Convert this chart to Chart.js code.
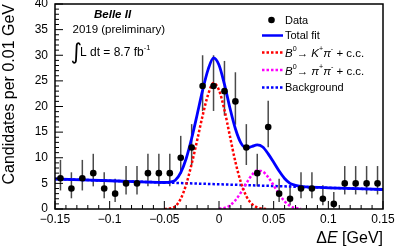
<!DOCTYPE html>
<html>
<head>
<meta charset="utf-8">
<script src="https://cdn.jsdelivr.net/npm/chart.js@4.4.0/dist/chart.umd.min.js"></script>
<style>
  html, body { margin: 0; padding: 0; background: #fff; }
  #c { display: block; }
</style>
</head>
<body>
<canvas id="c" width="395" height="248"></canvas>
<script>
/* ---- Data ---- */

// histogram bins, 0.01 GeV wide
const binCenters = [-0.145, -0.135, -0.125, -0.115, -0.105, -0.095, -0.085, -0.075, -0.065, -0.055,
                    -0.045, -0.035, -0.025, -0.015, -0.005, 0.005, 0.015, 0.025, 0.035, 0.045,
                    0.055, 0.065, 0.075, 0.085, 0.095, 0.105, 0.115, 0.125, 0.135, 0.145];
const counts = [6, 4, 6, 7, 4, 3, 5, 5, 7, 7,
                7, 10, 12, 24, 24, 23, 21, 12, 7, 16,
                3, 2, 4, 4, 2, 1, 5, 5, 5, 5];
// asymmetric (Poisson) error bars
const errLo = [2.38, 1.91, 2.38, 2.58, 1.91, 1.63, 2.16, 2.16, 2.58, 2.58,
               2.58, 3.11, 3.41, 4.87, 4.87, 4.77, 4.55, 3.41, 2.58, 3.96,
               1.63, 1.29, 1.91, 1.91, 1.29, 0.83, 2.16, 2.16, 2.16, 2.16];
const errHi = [3.58, 3.16, 3.58, 3.77, 3.16, 2.92, 3.38, 3.38, 3.77, 3.77,
               3.77, 4.27, 4.56, 6.00, 6.00, 5.89, 5.68, 4.56, 3.77, 5.10,
               2.92, 2.64, 3.16, 3.16, 2.64, 2.30, 3.38, 3.38, 3.38, 3.38];

// fit curves
const totalX = [-0.15, -0.1, -0.05, -0.045, -0.04, -0.035, -0.03, -0.025, -0.02, -0.015,
                -0.01, -0.005, 0, 0.005, 0.01, 0.015, 0.02, 0.025, 0.03, 0.035,
                0.04, 0.045, 0.05, 0.055, 0.06, 0.065, 0.07, 0.075, 0.08, 0.1, 0.15];
const totalY = [5.85, 5.51, 5.17, 5.25, 5.62, 7.1, 9.85, 13.8, 18.4, 23.15,
                27.2, 29.5, 28.1, 24.3, 19.7, 15.65, 12.9, 11.9, 12.2, 12.5,
                12.1, 10.75, 9.1, 7.4, 5.95, 5.0, 4.6, 4.4, 4.32, 4.14, 3.8];

const kpiX = [-0.05, -0.045, -0.04, -0.035, -0.03, -0.025, -0.02, -0.015, -0.01, -0.005,
              0, 0.005, 0.01, 0.015, 0.02, 0.025, 0.03, 0.035, 0.04, 0.045];
const kpiY = [0, 0.1, 0.5, 2.0, 4.8, 8.8, 13.4, 18.2, 22.3, 24.6,
              23.2, 19.3, 14.2, 9.2, 5.2, 2.5, 1.0, 0.3, 0.05, 0];

const pipiX = [0, 0.005, 0.01, 0.015, 0.02, 0.025, 0.03, 0.035,
               0.04, 0.045, 0.05, 0.055, 0.06, 0.065, 0.07, 0.075];
const pipiY = [0.05, 0.2, 0.7, 1.7, 3.2, 5.0, 6.6, 7.5,
               7.3, 6.2, 4.6, 2.9, 1.5, 0.6, 0.2, 0.05];

const bkgX = [-0.15, 0.15];
const bkgY = [5.85, 3.8];

const xTicks = [-0.15, -0.1, -0.05, 0, 0.05, 0.1, 0.15];

/* ---- Style ---- */

const FONT = '"Liberation Sans", Arial, Helvetica, sans-serif';
const BLUE = '#0000ff';
const RED = '#ff0000';
const MAGENTA = '#ff00ff';

const toXY = (xs, ys) => xs.map((v, i) => ({ x: v, y: ys[i] }));

function fmtTick(v) {
  const r = Math.round(v * 100) / 100;
  return String(r).replace('-', '\u2212');
}

/* draw a run of mixed-style text: [{t, it, b, sup}] */
function drawRuns(ctx, x, y, runs, size, align) {
  const fontOf = (r) => {
    const s = r.sup ? size * 0.62 : size;
    return `${r.it ? 'italic ' : ''}${r.b ? 'bold ' : ''}${s}px ${FONT}`;
  };
  let width = 0;
  runs.forEach(r => { ctx.font = fontOf(r); width += ctx.measureText(r.t).width; });
  let cx = align === 'right' ? x - width : x;
  ctx.textBaseline = 'middle';
  ctx.textAlign = 'left';
  runs.forEach(r => {
    ctx.font = fontOf(r);
    ctx.fillText(r.t, cx, r.sup ? y - size * 0.42 : y);
    cx += ctx.measureText(r.t).width;
  });
}

/* ---- Plugins ---- */

const errorBars = {
  id: 'errorBars',
  beforeDatasetsDraw(chart) {
    const { ctx, scales: { x, y } } = chart;
    ctx.save();
    ctx.strokeStyle = '#4a4a4a';
    ctx.lineWidth = 1.5;
    binCenters.forEach((bc, i) => {
      const px = x.getPixelForValue(bc);
      ctx.beginPath();
      ctx.moveTo(px, y.getPixelForValue(counts[i] - errLo[i]));
      ctx.lineTo(px, y.getPixelForValue(counts[i] + errHi[i]));
      ctx.stroke();
    });
    ctx.restore();
  }
};

// ROOT-like frame with inward major/minor ticks
const frame = {
  id: 'frame',
  afterDatasetsDraw(chart) {
    const { ctx, chartArea: a, scales: { x, y } } = chart;
    ctx.save();
    ctx.strokeStyle = '#000';
    ctx.lineWidth = 1;
    for (let i = -15; i <= 15; i++) {
      const px = x.getPixelForValue(i / 100);
      const len = i % 5 === 0 ? 8 : 4;
      ctx.beginPath();
      ctx.moveTo(px, a.bottom);
      ctx.lineTo(px, a.bottom - len);
      ctx.stroke();
    }
    for (let v = 0; v <= 40; v++) {
      const py = y.getPixelForValue(v);
      const len = v % 5 === 0 ? 8 : 4;
      ctx.beginPath();
      ctx.moveTo(a.left, py);
      ctx.lineTo(a.left + len, py);
      ctx.stroke();
    }
    ctx.lineWidth = 1.5;
    ctx.strokeRect(a.left, a.top, a.right - a.left, a.bottom - a.top);
    ctx.restore();
  }
};

const labels = {
  id: 'labels',
  afterDraw(chart) {
    const { ctx } = chart;
    ctx.save();
    ctx.fillStyle = '#000';

    // experiment label
    drawRuns(ctx, 94, 15, [{ t: 'Belle II', it: true, b: true }], 11.5);
    drawRuns(ctx, 72.5, 29.5, [{ t: '2019 (preliminary)' }], 11.5);
    ctx.font = `22px "DejaVu Sans", ${FONT}`;
    ctx.textBaseline = 'middle';
    ctx.textAlign = 'left';
    ctx.fillText('\u222B', 70.5, 53);
    drawRuns(ctx, 80, 52.5, [{ t: 'L dt = 8.7 fb' }, { t: '-1', sup: true }], 12);

    // legend
    const lx0 = 262, lx1 = 283, tx = 285;
    ctx.beginPath();
    ctx.arc(271.5, 20, 3.3, 0, Math.PI * 2);
    ctx.fill();
    drawRuns(ctx, tx, 20.5, [{ t: 'Data' }], 11);

    const seg = (yy, color, dash) => {
      ctx.save();
      ctx.strokeStyle = color;
      ctx.lineWidth = 2.5;
      ctx.setLineDash(dash);
      ctx.beginPath();
      ctx.moveTo(lx0, yy);
      ctx.lineTo(lx1, yy);
      ctx.stroke();
      ctx.restore();
    };
    seg(35.5, BLUE, []);
    drawRuns(ctx, tx, 35.5, [{ t: 'Total fit' }], 11);
    seg(52.5, RED, [2.5, 2]);
    drawRuns(ctx, tx, 54, [{ t: 'B', it: true }, { t: '0', sup: true }, { t: '\u2192 ' },
      { t: 'K', it: true }, { t: '+', sup: true }, { t: '\u03C0', it: true }, { t: '-', sup: true },
      { t: ' + c.c.' }], 11.5);
    seg(70, MAGENTA, [2.5, 2]);
    drawRuns(ctx, tx, 71.5, [{ t: 'B', it: true }, { t: '0', sup: true }, { t: '\u2192 ' },
      { t: '\u03C0', it: true }, { t: '+', sup: true }, { t: '\u03C0', it: true }, { t: '-', sup: true },
      { t: ' + c.c.' }], 11.5);
    seg(87.5, BLUE, [2.5, 2]);
    drawRuns(ctx, tx, 87.5, [{ t: 'Background' }], 11);

    // x-axis title
    drawRuns(ctx, 383, 239, [{ t: '\u0394' }, { t: 'E', it: true }, { t: ' [GeV]' }], 16, 'right');
    ctx.restore();
  }
};

/* ---- Chart ---- */

const lineDefaults = {
  type: 'line',
  pointRadius: 0,
  fill: false,
  cubicInterpolationMode: 'monotone',
  borderWidth: 2.5,
};

new Chart(document.getElementById('c'), {
  type: 'scatter',
  data: {
    datasets: [
      {
        label: 'Data',
        data: toXY(binCenters, counts),
        backgroundColor: '#000',
        borderWidth: 0,
        pointRadius: 3.3,
        order: 0,
      },
      { ...lineDefaults, label: 'Total fit', data: toXY(totalX, totalY), borderColor: BLUE, borderWidth: 2.8, order: 1 },
      { ...lineDefaults, label: 'Kpi', data: toXY(kpiX, kpiY), borderColor: RED, borderDash: [2.5, 2], order: 2 },
      { ...lineDefaults, label: 'pipi', data: toXY(pipiX, pipiY), borderColor: MAGENTA, borderDash: [2.5, 2], order: 3 },
      { ...lineDefaults, label: 'Background', data: toXY(bkgX, bkgY), borderColor: BLUE, borderDash: [2.5, 2], order: 4 },
    ],
  },
  options: {
    responsive: false,
    animation: false,
    layout: { padding: { left: 0, right: 12, top: 4, bottom: 0 } },
    plugins: { legend: { display: false }, tooltip: { enabled: false } },
    scales: {
      x: {
        type: 'linear',
        min: -0.15,
        max: 0.15,
        grid: { display: false, drawTicks: false },
        border: { display: false },
        afterBuildTicks: (s) => { s.ticks = xTicks.map(v => ({ value: v })); },
        ticks: {
          autoSkip: false,
          maxRotation: 0,
          padding: 3,
          color: '#000',
          font: { family: FONT, size: 12 },
          callback: (v) => fmtTick(v),
        },
        afterFit: (s) => { s.height = 39; s.paddingLeft = 0; s.paddingRight = 0; },
      },
      y: {
        min: 0,
        max: 40,
        grid: { display: false, drawTicks: false },
        border: { display: false },
        ticks: {
          stepSize: 5,
          padding: 7,
          color: '#000',
          font: { family: FONT, size: 12 },
        },
        title: {
          display: true,
          text: 'Candidates per 0.01 GeV',
          align: 'end',
          color: '#000',
          padding: 0,
          font: { family: FONT, size: 16 },
        },
        afterFit: (s) => { s.width = 55; s.paddingTop = 0; s.paddingBottom = 0; },
      },
    },
  },
  plugins: [errorBars, frame, labels],
});
</script>
</body>
</html>
